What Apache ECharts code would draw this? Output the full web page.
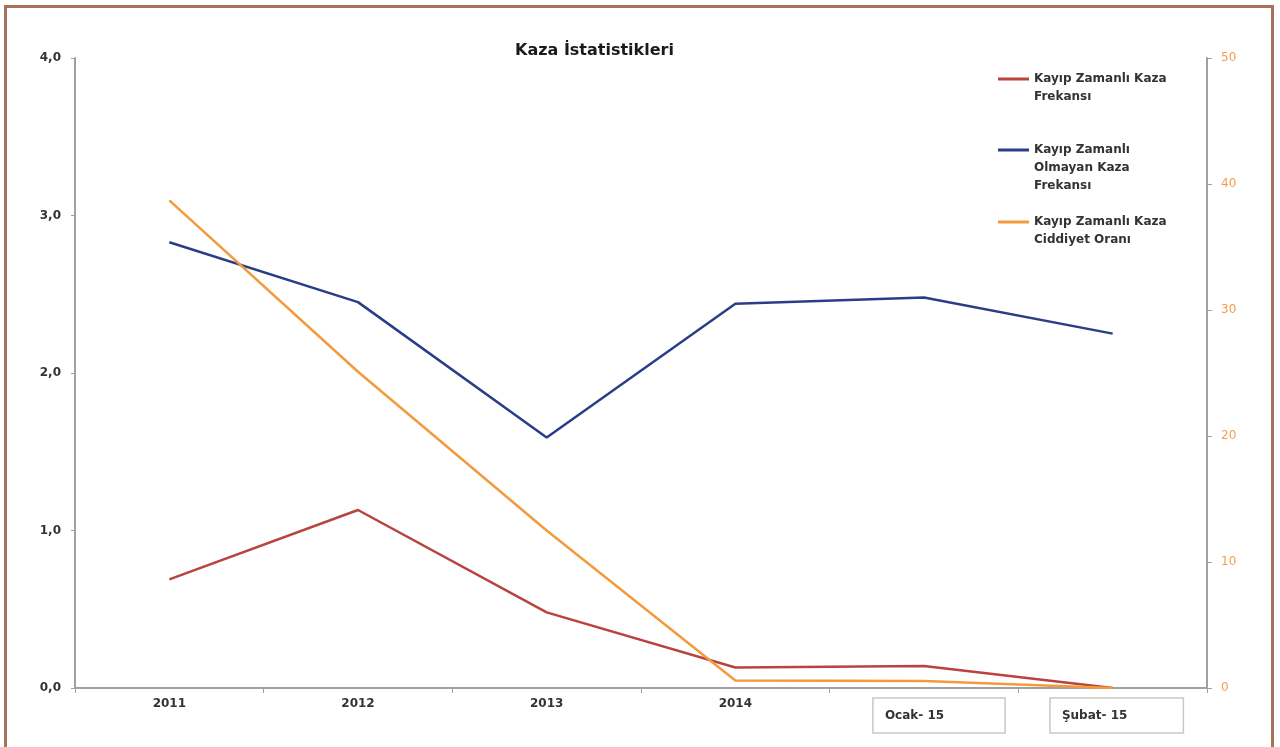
<!DOCTYPE html>
<html>
<head>
<meta charset="utf-8">
<script src="https://cdn.jsdelivr.net/npm/echarts@6/dist/echarts.min.js"></script>
<style>
  html, body { margin: 0; padding: 0; background: #fff; }
  #chart { width: 1280px; height: 747px; }
  .frame {
    position: absolute; left: 4px; top: 5px; width: 1264px; height: 800px;
    border: 3px solid #a9705a; pointer-events: none;
  }
</style>
</head>
<body>
<div id="chart"></div>
<div class="frame"></div>
<script>
const categories = ['2011', '2012', '2013', '2014', 'Ocak- 15', 'Şubat- 15'];
const lostTimeFreq = [0.69, 1.13, 0.48, 0.13, 0.14, 0.0];
const noLostTimeFreq = [2.83, 2.45, 1.59, 2.44, 2.48, 2.25];
const severityRate = [38.7, 25.1, 12.5, 0.6, 0.55, 0.0];
const seriesNames = [
  'Kayıp Zamanlı Kaza\nFrekansı',
  'Kayıp Zamanlı\nOlmayan Kaza\nFrekansı',
  'Kayıp Zamanlı Kaza\nCiddiyet Oranı'
];
const colors = ['#b8433f', '#2b3d87', '#f39a3c'];
const font = 'DejaVu Sans';

let dom = echarts.init(document.getElementById('chart'));

// one legend per series; leading blank lines push the first text line level with the swatch
function legendAt (i, iconY, lines) {
  let total = 2 * lines - 1;
  return {
    data: [seriesNames[i]],
    formatter: name => '\n'.repeat(lines - 1) + name,
    orient: 'vertical',
    left: 998,
    top: iconY - total * 9,
    padding: 0,
    icon: 'rect',
    itemWidth: 31,
    itemHeight: 3,
    selectedMode: false,
    textStyle: { fontFamily: font, fontWeight: 'bold', fontSize: 12, color: '#333', lineHeight: 18 }
  };
}

let option = {
  animation: false,
  title: {
    text: 'Kaza İstatistikleri',
    left: 510,
    top: 38,
    textStyle: { fontFamily: font, fontWeight: 'bold', fontSize: 16, color: '#1a1a1a' }
  },
  legend: [
    legendAt(0, 79, 2),
    legendAt(1, 150, 3),
    legendAt(2, 222, 2)
  ],
  grid: { left: 75, right: 73, top: 58, bottom: 59 },
  xAxis: {
    type: 'category',
    data: categories,
    axisLine: { lineStyle: { color: '#a0a0a0', width: 2 } },
    axisTick: { show: true, length: 5, lineStyle: { color: '#a0a0a0' } },
    axisLabel: {
      interval: 0,
      margin: 10, fontFamily: font, fontWeight: 'bold', fontSize: 12, color: '#333',
      formatter: (v, i) => {
        if (i === 4) return '{padA|}{boxA|' + v + '}';
        if (i === 5) return '{padB|}{boxB|' + v + '}';
        return v;
      },
      rich: {
        padA: { width: 30 },
        padB: { width: 8 },
        boxA: {
          padding: [12, 61, 11, 12],
          borderColor: '#c8c8c8', borderWidth: 1.5,
          fontFamily: font, fontWeight: 'bold', fontSize: 12, color: '#333'
        },
        boxB: {
          padding: [12, 56, 11, 12],
          borderColor: '#c8c8c8', borderWidth: 1.5,
          fontFamily: font, fontWeight: 'bold', fontSize: 12, color: '#333'
        }
      }
    }
  },
  yAxis: [
    {
      type: 'value', min: 0, max: 4, interval: 1,
      splitLine: { show: false },
      axisLine: { show: true, lineStyle: { color: '#a0a0a0', width: 2 } },
      axisTick: { show: true, length: 4, lineStyle: { color: '#a0a0a0' } },
      axisLabel: {
        formatter: v => v.toFixed(1).replace('.', ','),
        margin: 14, fontFamily: font, fontWeight: 'bold', fontSize: 12, color: '#333'
      }
    },
    {
      type: 'value', min: 0, max: 50, interval: 10,
      splitLine: { show: false },
      axisLine: { show: true, lineStyle: { color: '#a0a0a0', width: 2 } },
      axisTick: { show: true, length: 5, lineStyle: { color: '#a0a0a0' } },
      axisLabel: { margin: 14, fontFamily: font, fontSize: 12, color: '#f0a04b' }
    }
  ],
  series: [
    {
      name: seriesNames[0], type: 'line', data: lostTimeFreq, yAxisIndex: 0,
      symbol: 'none', lineStyle: { width: 2.5, color: colors[0] }, itemStyle: { color: colors[0] }
    },
    {
      name: seriesNames[1], type: 'line', data: noLostTimeFreq, yAxisIndex: 0,
      symbol: 'none', lineStyle: { width: 2.5, color: colors[1] }, itemStyle: { color: colors[1] }
    },
    {
      name: seriesNames[2], type: 'line', data: severityRate, yAxisIndex: 1,
      symbol: 'none', lineStyle: { width: 2.5, color: colors[2] }, itemStyle: { color: colors[2] }
    }
  ]
};
dom.setOption(option);
</script>
</body>
</html>
